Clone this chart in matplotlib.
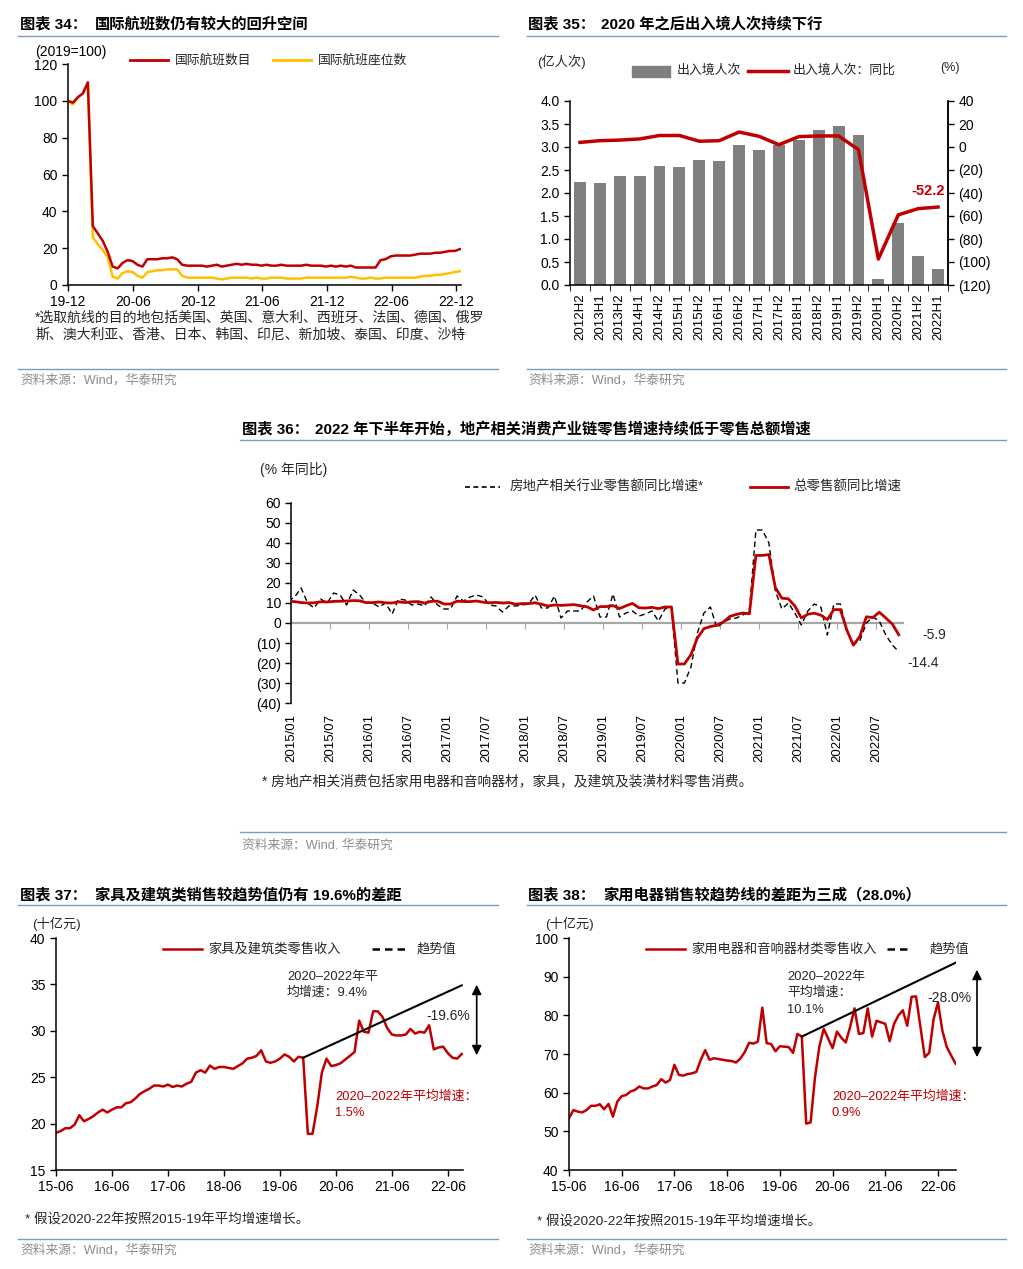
import numpy as np
import pandas as pd
import matplotlib
matplotlib.use('Agg')
import matplotlib.pyplot as plt
from matplotlib.lines import Line2D
from matplotlib.patches import Rectangle
import matplotlib.ticker as mticker

plt.rcParams['font.family'] = ['Liberation Sans', 'Noto Sans CJK SC']
plt.rcParams['axes.unicode_minus'] = False

# ---------------- data ----------------
# Chart 34: biweekly, index 2019-12-01 = 100
flight_dates = pd.date_range('2019-12-01', periods=80, freq='14D')
intl_flights = [100, 99, 102, 104, 110, 32, 28, 24, 18, 10,
                9, 12, 13.5, 13, 11, 10, 14, 14, 14, 14.5,
                14.5, 15, 14, 11, 10.5, 10.5, 10.5, 10.5, 10, 10.5,
                11, 10, 10.5, 11, 11.5, 11, 11.5, 11, 11, 10.5,
                11, 10.5, 10.5, 11, 10.5, 10.5, 10.5, 10.5, 11, 10.5,
                10.5, 10.5, 10, 10.5, 10, 10.5, 10, 10.5, 9.5, 9.5,
                9.5, 9.5, 9.5, 13.5, 14, 15.5, 16, 16, 16, 16,
                16.5, 17, 17, 17, 17.5, 17.5, 18, 18.5, 18.5, 19.5]
intl_seats = [100, 98, 102, 104, 110, 26, 22, 19, 15, 4.5,
              3.5, 6.5, 7.5, 7, 5, 4, 7, 7.5, 8, 8,
              8.5, 8.5, 8.5, 5, 4, 4, 4, 4, 4, 4,
              3.5, 3, 3.5, 4, 4, 4, 4, 3.5, 4, 3.5,
              3.5, 4, 4, 4, 3.5, 3.5, 3.5, 3.5, 4, 4,
              4, 4, 4, 4, 4, 4, 4, 4.5, 4, 3.5,
              3.5, 4, 3.5, 3.5, 4, 4, 4, 4, 4, 4,
              4, 4.5, 5, 5, 5.5, 5.5, 6, 6.5, 7, 7.5]
c34_tick_dates = ['2019-12-01', '2020-06-01', '2020-12-01', '2021-06-01',
                  '2021-12-01', '2022-06-01', '2022-12-01']
c34_tick_labels = ['19-12', '20-06', '20-12', '21-06', '21-12', '22-06', '22-12']

# Chart 35
half_years = ['2012H2', '2013H1', '2013H2', '2014H1', '2014H2', '2015H1', '2015H2',
              '2016H1', '2016H2', '2017H1', '2017H2', '2018H1', '2018H2', '2019H1',
              '2019H2', '2020H1', '2020H2', '2021H2', '2022H1']
border_trips = [2.25, 2.21, 2.38, 2.36, 2.59, 2.56, 2.71, 2.69, 3.05, 2.93,
                3.04, 3.16, 3.36, 3.45, 3.26, 0.12, 1.34, 0.63, 0.34]
border_yoy = [4, 5.5, 6, 7, 10, 10, 5, 5.5, 13, 9.3,
              2, 9, 9.6, 9.6, -2.3, -97.4, -59, -53.6, -52.2]

# Chart 36: monthly from 2015/01 (index 0)
total_retail_yoy = [10.7, 10.7, 10.2, 10.0, 10.1, 10.6, 10.5, 10.8, 10.9, 11.0, 11.2, 11.1,
                    10.2, 10.2, 10.5, 10.1, 10.0, 10.6, 10.2, 10.6, 10.7, 10.0, 10.8, 10.9,
                    9.5, 9.5, 10.9, 10.7, 10.7, 11.0, 10.4, 10.1, 10.3, 10.0, 10.2, 9.4,
                    9.7, 9.7, 10.1, 9.4, 8.5, 9.0, 8.8, 9.0, 9.2, 8.6, 8.1, 6.5,
                    8.2, 8.2, 8.7, 7.2, 8.6, 9.8, 7.6, 7.5, 7.8, 7.2, 8.0, 8.0,
                    -20.5, -20.5, -15.8, -7.5, -2.8, -1.8, -1.1, 0.5, 3.3, 4.3, 5.0, 4.6,
                    33.8, 33.8, 34.2, 17.7, 12.4, 12.1, 8.5, 2.5, 4.4, 4.9, 3.9, 1.7,
                    6.7, 6.7, -3.5, -11.1, -6.7, 3.1, 2.7, 5.4, 2.5, -0.5, -5.9]
property_retail_yoy = [11, 13, 17.5, 10, 7.5, 12, 10, 15, 14, 9, 16.5, 14,
                       10, 10, 8, 10, 4.5, 12, 11.5, 9, 9.5, 8.5, 13, 9,
                       7, 7, 13.5, 11, 13, 14, 13, 9, 8.5, 5.5, 8.5, 8.5,
                       9, 9.5, 14, 7.5, 7.5, 13.5, 2.5, 6, 6, 6, 10.5, 13.5,
                       3, 3, 14.5, 3, 5, 6, 3.5, 4.5, 6, 1, 7, 8,
                       -30, -30, -22, -5, 5, 8, -2.5, 0.5, 2, 2.5, 4, 6,
                       46.5, 46.5, 40, 16, 7, 10, 5, -1, 6, 9.5, 8, -6,
                       9.5, 9.5, -4, -10.5, -9, 0, 3, 1, -6, -11, -14.4]
c36_tick_labels = ['2015/01', '2015/07', '2016/01', '2016/07', '2017/01', '2017/07',
                   '2018/01', '2018/07', '2019/01', '2019/07', '2020/01', '2020/07',
                   '2021/01', '2021/07', '2022/01', '2022/07']

# Chart 37
furniture_build = [19.0, 19.2, 19.5, 19.5, 19.9, 20.9, 20.25, 20.5, 20.8, 21.2,
                   21.5, 21.2, 21.5, 21.75, 21.75, 22.2, 22.3, 22.7, 23.2, 23.5,
                   23.75, 24.1, 24.1, 24.0, 24.2, 23.95, 24.1, 24.0, 24.3, 24.5,
                   25.5, 25.75, 25.5, 26.25, 25.9, 26.1, 26.1, 26.0, 25.9, 26.2,
                   26.5, 27.0, 27.1, 27.3, 27.9, 26.7, 26.55, 26.7, 27.0, 27.45,
                   27.2, 26.7, 27.2, 27.1, 18.9, 18.9, 21.8, 25.5, 27.0, 26.2,
                   26.3, 26.5, 26.9, 27.3, 27.7, 31.1, 29.9, 29.8, 32.1, 32.1,
                   31.5, 30.3, 29.6, 29.5, 29.5, 29.6, 30.2, 29.7, 29.9, 29.8,
                   30.6, 28.0, 28.2, 28.3, 27.6, 27.1, 27.0, 27.5]
furniture_trend_idx = [53, 87]
furniture_trend = [27.1, 34.9]

# Chart 38
appliances = [53.4, 55.5, 55.1, 54.9, 55.5, 56.6, 56.6, 57.0, 55.7, 57.1,
              53.8, 57.7, 59.1, 59.4, 60.3, 60.7, 61.6, 61.1, 61.1, 61.6,
              62.0, 63.5, 62.6, 63.3, 67.2, 64.6, 64.4, 64.8, 65.0, 65.4,
              68.5, 71.0, 68.5, 68.9, 68.7, 68.5, 68.3, 68.2, 67.8, 68.8,
              70.5, 72.9, 72.7, 73.2, 82.0, 72.8, 72.6, 70.7, 72.0, 71.9,
              71.8, 70.3, 75.2, 74.5, 52.0, 52.3, 64.0, 72.0, 76.5, 74.0,
              71.5, 75.8, 74.2, 73.0, 77.0, 81.8, 75.2, 75.4, 81.8, 74.5,
              78.6, 78.2, 77.8, 73.3, 77.8, 80.0, 81.3, 77.3, 84.8, 84.9,
              77.0, 69.2, 70.3, 79.0, 83.3, 76.0, 71.8, 69.6, 67.5]
appliance_trend_idx = [53, 88]
appliance_trend = [74.5, 93.6]
c3738_tick_labels = ['15-06', '16-06', '17-06', '18-06', '19-06', '20-06', '21-06', '22-06']

# ---------------- style ----------------
W, H = 1023, 1269
fig = plt.figure(figsize=(W / 100, H / 100), dpi=100)
RED = '#C00000'
YEL = '#FFC000'
GRAY_BAR = '#808080'
SEP = '#7F9DB9'
SRC = '#8C8C8C'
TXT = '#262626'


def px_axes(l, t, r, b):
    return fig.add_axes([l / W, 1 - b / H, (r - l) / W, (b - t) / H])


def ftext(x, y, s, size=9.5, color=TXT, weight='normal', ha='left', va='center', **kw):
    fig.text(x / W, 1 - y / H, s, fontsize=size, color=color, fontweight=weight,
             ha=ha, va=va, **kw)


def fline(x1, x2, y, color=SEP, lw=1.0, ls='-'):
    fig.add_artist(Line2D([x1 / W, x2 / W], [1 - y / H, 1 - y / H], color=color, lw=lw, ls=ls))


def farrow(x, y1, y2):
    fig.add_artist(matplotlib.patches.FancyArrowPatch(
        (x / W, 1 - y1 / H), (x / W, 1 - y2 / H), transform=fig.transFigure,
        arrowstyle='<|-|>', mutation_scale=14, color='black', lw=1.2))


def base_style(ax, left=True, bottom=True, right=False):
    for s in ['top', 'right', 'left', 'bottom']:
        ax.spines[s].set_visible(False)
    if left:
        ax.spines['left'].set_visible(True)
    if bottom:
        ax.spines['bottom'].set_visible(True)
    if right:
        ax.spines['right'].set_visible(True)
    for s in ax.spines.values():
        s.set_color('black')
        s.set_linewidth(1.1)
    ax.tick_params(direction='out', length=4, width=1.0, labelsize=10, colors='black')
    ax.set_facecolor('none')


def paren_fmt(v, pos):
    v = int(round(v))
    return f'({abs(v)})' if v < 0 else f'{v}'


def title(x, y, num, text, x2):
    ftext(x, y, num, size=11, weight='bold', color='black')
    ftext(x2, y, text, size=11, weight='bold', color='black')


# ================= Chart 34 =================
title(20, 24, '图表 34：', '国际航班数仍有较大的回升空间', 95)
fline(18, 498, 36)
ax1 = px_axes(68, 64, 461, 285)
base_style(ax1)
ax1.plot(flight_dates, intl_flights, color=RED, lw=1.8, zorder=3)
ax1.plot(flight_dates, intl_seats, color=YEL, lw=1.8, zorder=2)
ax1.set_ylim(0, 120)
ax1.set_yticks(range(0, 121, 20))
ax1.set_xlim(pd.Timestamp('2019-12-01'), pd.Timestamp('2022-12-14'))
ax1.set_xticks([pd.Timestamp(d) for d in c34_tick_dates])
ax1.set_xticklabels(c34_tick_labels)
ax1.tick_params(axis='x', pad=3)
ftext(35, 52, '(2019=100)', size=10, color='black')
fline(130, 168, 60, color=RED, lw=2)
ftext(175, 60, '国际航班数目', size=9.2)
fline(273, 311, 60, color=YEL, lw=2)
ftext(318, 60, '国际航班座位数', size=9.2)
ftext(35, 318, '*选取航线的目的地包括美国、英国、意大利、西班牙、法国、德国、俄罗', size=10)
ftext(35, 334, '斯、澳大利亚、香港、日本、韩国、印尼、新加坡、泰国、印度、沙特', size=10)
fline(18, 498, 369)
ftext(20, 380, '资料来源：Wind，华泰研究', size=9.2, color=SRC)

# ================= Chart 35 =================
title(528, 24, '图表 35：', '2020 年之后出入境人次持续下行', 601)
fline(527, 1006, 36)
ax2 = px_axes(570, 101, 948, 285)
base_style(ax2, right=True)
xpos = np.arange(len(half_years))
ax2.bar(xpos, border_trips, width=0.6, color=GRAY_BAR, zorder=2)
ax2.set_ylim(0, 4.0)
ax2.set_yticks(np.arange(0, 4.01, 0.5))
ax2.yaxis.set_major_formatter(mticker.FormatStrFormatter('%.1f'))
ax2.set_xlim(-0.5, len(half_years) - 0.5)
ax2.set_xticks(xpos)
ax2.set_xticklabels(half_years, rotation=90, fontsize=9.5)
ax2.tick_params(axis='x', which='major', length=0, pad=6)
ax2.set_xticks(np.arange(-0.5, len(half_years), 1.0), minor=True)
ax2.tick_params(axis='x', which='minor', length=4, direction='out')
ax2b = ax2.twinx()
base_style(ax2b, left=False, bottom=False, right=True)
ax2b.plot(xpos, border_yoy, color=RED, lw=2.5, zorder=3)
ax2b.set_ylim(-120, 40)
ax2b.set_yticks(range(-120, 41, 20))
ax2b.yaxis.set_major_formatter(mticker.FuncFormatter(paren_fmt))
ftext(945, 191, '-52.2', size=10.5, weight='bold', color=RED, ha='right')
ftext(537, 62, '(亿人次)', size=9.5)
fig.add_artist(Rectangle((632 / W, 1 - 77 / H), 38 / W, 11 / H, transform=fig.transFigure,
                         color=GRAY_BAR))
ftext(677, 71, '出入境人次', size=9.3)
fline(748, 788, 71, color=RED, lw=2.5)
ftext(793, 71, '出入境人次：同比', size=9.3)
ftext(940, 68, '(%)', size=9)
fline(527, 1006, 369)
ftext(528, 380, '资料来源：Wind，华泰研究', size=9.2, color=SRC)

# ================= Chart 36 =================
title(242, 429, '图表 36：', '2022 年下半年开始，地产相关消费产业链零售增速持续低于零售总额增速', 315)
fline(240, 1006, 440)
ax3 = px_axes(291.4, 503, 904, 703)
base_style(ax3, bottom=False)
months = np.arange(len(total_retail_yoy))
ax3.axhline(0, color='#A6A6A6', lw=1.6, zorder=1)
ax3.plot(months, property_retail_yoy, color='black', lw=1.0, ls=(0, (4, 2.5)), zorder=2)
ax3.plot(months, total_retail_yoy, color=RED, lw=2.0, zorder=3)
ax3.set_ylim(-40, 60)
ax3.set_yticks(range(-40, 61, 10))
ax3.yaxis.set_major_formatter(mticker.FuncFormatter(paren_fmt))
ax3.set_xlim(0.5, 94.8)
tick_pos36 = 0.5 + 6 * np.arange(len(c36_tick_labels))
ax3.set_xticks(tick_pos36)
ax3.set_xticklabels(c36_tick_labels, rotation=90, fontsize=9.5)
ax3.tick_params(axis='x', length=0, pad=8)
sec = ax3.secondary_xaxis(0.4)
sec.set_xticks(tick_pos36[1:])
sec.tick_params(axis='x', length=4, color='#A6A6A6', labelbottom=False, direction='out')
sec.spines['bottom'].set_visible(False)
ftext(260, 469, '(% 年同比)', size=10)
fline(465, 500, 487, color='black', lw=1.2, ls=(0, (3, 2)))
ftext(510, 487, '房地产相关行业零售额同比增速*', size=9.7)
fline(750, 788, 487, color=RED, lw=2)
ftext(793, 487, '总零售额同比增速', size=9.7)
ftext(922, 635, '-5.9', size=10)
ftext(907, 663, '-14.4', size=10)
ftext(262, 781, '* 房地产相关消费包括家用电器和音响器材，家具，及建筑及装潢材料零售消费。', size=9.9)
fline(240, 1006, 832)
ftext(242, 846, '资料来源：Wind. 华泰研究', size=9.2, color=SRC)

# ================= Chart 37 =================
title(20, 895, '图表 37：', '家具及建筑类销售较趋势值仍有 19.6%的差距', 95)
fline(18, 498, 905)
ax4 = px_axes(56, 938, 462.7, 1170)
base_style(ax4)
ax4.plot(np.arange(len(furniture_build)), furniture_build, color=RED, lw=1.8, zorder=2)
ax4.plot(furniture_trend_idx, furniture_trend, color='black', lw=1.5, zorder=3)
ax4.set_ylim(15, 40)
ax4.set_yticks(range(15, 41, 5))
ax4.set_xlim(0, 87.2)
ax4.set_xticks(np.arange(0, 85, 12))
ax4.set_xticklabels(c3738_tick_labels)
ftext(32, 924, '(十亿元)', size=9.5)
fline(163, 202, 949, color=RED, lw=1.8)
ftext(208, 949, '家具及建筑类零售收入', size=9.5)
fline(372, 407, 949, color='black', lw=1.8, ls=(0, (3, 2)))
ftext(417, 949, '趋势值', size=9.5)
ftext(287, 977, '2020–2022年平', size=9.3)
ftext(287, 993, '均增速：9.4%', size=9.3)
ftext(470, 1016, '-19.6%', size=10, ha='right')
farrow(476.7, 982, 1058)
ftext(335, 1097, '2020–2022年平均增速：', size=9.3, color=RED)
ftext(335, 1113, '1.5%', size=9.3, color=RED)
ftext(25, 1220, '* 假设2020-22年按照2015-19年平均增速增长。', size=9.7)
fline(18, 498, 1239)
ftext(20, 1250, '资料来源：Wind，华泰研究', size=9.2, color=SRC)

# ================= Chart 38 =================
title(528, 895, '图表 38：', '家用电器销售较趋势线的差距为三成（28.0%）', 603)
fline(527, 1006, 905)
ax5 = px_axes(569, 938, 956, 1170)
base_style(ax5)
ax5.plot(np.arange(len(appliances)), appliances, color=RED, lw=1.8, zorder=2)
ax5.plot(appliance_trend_idx, appliance_trend, color='black', lw=1.5, zorder=3)
ax5.set_ylim(40, 100)
ax5.set_yticks(range(40, 101, 10))
ax5.set_xlim(0, 88.1)
ax5.set_xticks(np.arange(0, 85, 12))
ax5.set_xticklabels(c3738_tick_labels)
ftext(545, 924, '(十亿元)', size=9.5)
fline(646, 685, 949, color=RED, lw=1.8)
ftext(691, 949, '家用电器和音响器材类零售收入', size=9.5)
fline(887, 912, 949, color='black', lw=1.8, ls=(0, (3, 2)))
ftext(930, 949, '趋势值', size=9.5)
ftext(787, 977, '2020–2022年', size=9.3)
ftext(787, 993, '平均增速：', size=9.3)
ftext(787, 1010, '10.1%', size=9.3)
ftext(972, 998, '-28.0%', size=10, ha='right')
farrow(977, 967, 1060)
ftext(832, 1097, '2020–2022年平均增速：', size=9.3, color=RED)
ftext(832, 1113, '0.9%', size=9.3, color=RED)
ftext(537, 1222, '* 假设2020-22年按照2015-19年平均增速增长。', size=9.7)
fline(527, 1006, 1239)
ftext(528, 1250, '资料来源：Wind，华泰研究', size=9.2, color=SRC)

fig.savefig('out.png', dpi=100)
